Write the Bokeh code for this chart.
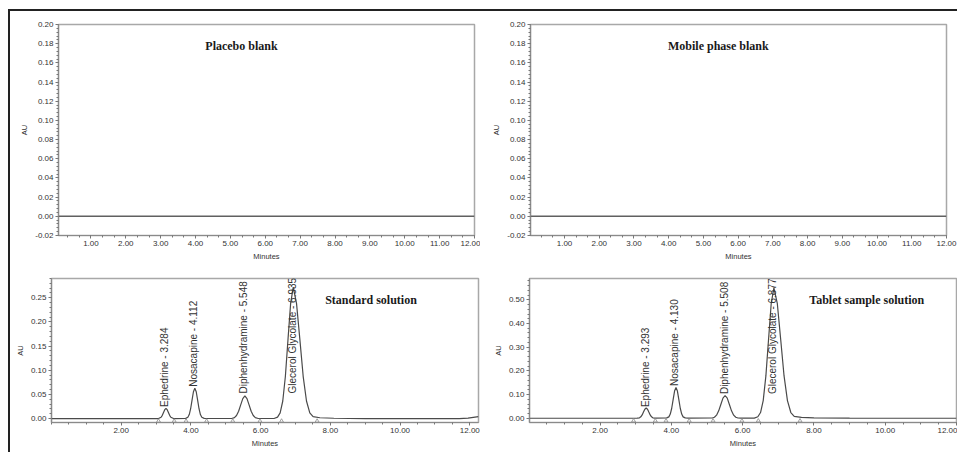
from bokeh.plotting import figure
from bokeh.models import Range1d, NumeralTickFormatter, FixedTicker, ColumnDataSource
from bokeh.layouts import column, row
from bokeh.embed import file_html
from bokeh.resources import INLINE
from bokeh.core.properties import value
import math

# ---------------- data ----------------
blank_t = [0.0, 12.0]
placebo_au = [0.0, 0.0]
mobile_au = [0.0, 0.0]

top_x_ticks = [1, 2, 3, 4, 5, 6, 7, 8, 9, 10, 11, 12]
bottom_x_ticks = [2, 4, 6, 8, 10, 12]
top_y_ticks = [-0.02, 0.0, 0.02, 0.04, 0.06, 0.08, 0.10, 0.12, 0.14, 0.16, 0.18, 0.20]
std_y_ticks = [0.0, 0.05, 0.10, 0.15, 0.20, 0.25]
tab_y_ticks = [0.0, 0.10, 0.20, 0.30, 0.40, 0.50]

peak_names = ["Ephedrine", "Nosacapine", "Diphenhydramine", "Glecerol Glycolate"]

std_rt = [3.284, 4.112, 5.548, 6.935]
std_label_y = [0.024, 0.066, 0.052, 0.052]
std_marks = [3.07, 3.52, 3.86, 4.45, 5.20, 5.98, 6.60, 7.62]
std_t = [0.0, 2.90, 3.07, 3.144, 3.179, 3.214, 3.249, 3.284, 3.319, 3.354, 3.389, 3.424, 3.50,
         3.85, 3.912, 3.952, 3.992, 4.032, 4.072, 4.112, 4.152, 4.192, 4.232, 4.272, 4.312, 4.38,
         5.17, 5.248, 5.308, 5.368, 5.428, 5.488, 5.548, 5.608, 5.668, 5.728, 5.788, 5.848, 5.93,
         6.385, 6.485, 6.56, 6.635, 6.71, 6.785, 6.86, 6.935, 7.03, 7.125, 7.22, 7.315, 7.41, 7.505,
         7.70, 8.10, 9.00, 11.70, 11.95, 12.25]
std_au = [0.0, 0.0, 0.0002, 0.0028, 0.0068, 0.0127, 0.0185, 0.021, 0.0185, 0.0127, 0.0068, 0.0028, 0.0002,
          0.0005, 0.0028, 0.0085, 0.0205, 0.0382, 0.0556, 0.063, 0.0556, 0.0382, 0.0205, 0.0085, 0.0028, 0.0005,
          0.0003, 0.002, 0.0064, 0.0153, 0.0285, 0.0415, 0.047, 0.0415, 0.0285, 0.0153, 0.0064, 0.002, 0.0003,
          0.0003, 0.003, 0.0118, 0.0365, 0.0876, 0.164, 0.238, 0.272, 0.238, 0.164, 0.0876, 0.0365, 0.0118, 0.004,
          0.0018, 0.0008, 0.0002, 0.0, 0.001, 0.004]

tab_rt = [3.293, 4.130, 5.508, 6.877]
tab_label_y = [0.047, 0.136, 0.102, 0.102]
tab_marks = [2.94, 3.55, 3.85, 4.50, 5.17, 5.98, 6.44, 7.61]
tab_t = [0.0, 2.90, 3.043, 3.106, 3.143, 3.181, 3.218, 3.256, 3.293, 3.331, 3.368, 3.406, 3.443, 3.481, 3.543,
         3.87, 3.93, 3.97, 4.01, 4.05, 4.09, 4.13, 4.17, 4.21, 4.25, 4.29, 4.33, 4.39, 4.47,
         5.148, 5.208, 5.268, 5.328, 5.388, 5.448, 5.508, 5.568, 5.628, 5.688, 5.748, 5.808, 5.868, 5.95,
         6.327, 6.427, 6.502, 6.577, 6.652, 6.727, 6.802, 6.877, 6.972, 7.067, 7.162, 7.257, 7.352, 7.447,
         7.65, 8.00, 9.00, 12.0]
tab_au = [0.0, 0.0, 0.0002, 0.0019, 0.0058, 0.014, 0.0261, 0.038, 0.043, 0.038, 0.0261, 0.014, 0.0058, 0.0019, 0.0002,
          0.0014, 0.0057, 0.0176, 0.0422, 0.0788, 0.1147, 0.13, 0.1147, 0.0788, 0.0422, 0.0176, 0.0057, 0.0014, 0.0002,
          0.0011, 0.0042, 0.013, 0.0312, 0.0582, 0.0847, 0.096, 0.0847, 0.0582, 0.0312, 0.013, 0.0042, 0.0011, 0.0002,
          0.0007, 0.0061, 0.0241, 0.0744, 0.1786, 0.3336, 0.4854, 0.55, 0.4854, 0.3336, 0.1786, 0.0744, 0.0241, 0.008,
          0.0035, 0.0015, 0.0004, 0.0]

SANS = "Liberation Sans"
SERIF = "Liberation Serif"
TRACE = "#4a4a4a"


def minor(ticks, n, lo, hi):
    step = (ticks[1] - ticks[0]) / n
    out = []
    k = 0
    v = ticks[0] - 20 * step
    while v <= hi + 1e-9:
        if v >= lo - 1e-9:
            out.append(round(v, 6))
        k += 1
        v = ticks[0] - 20 * step + k * step
    return out


def make_fig(w, h, xr, yr, mb, xt, xn, yt, yn):
    p = figure(width=w, height=h, x_range=Range1d(*xr), y_range=Range1d(*yr),
               output_backend="svg", toolbar_location=None, tools="",
               min_border_left=mb[0], min_border_right=mb[1],
               min_border_top=mb[2], min_border_bottom=mb[3])
    p.grid.visible = False
    p.outline_line_color = "#a8a8a8"
    p.outline_line_width = 1.5
    p.background_fill_color = "white"
    p.border_fill_color = "white"
    p.xaxis.ticker = FixedTicker(ticks=xt, minor_ticks=minor(xt, xn, xr[0], xr[1]))
    p.yaxis.ticker = FixedTicker(ticks=yt, minor_ticks=minor(yt, yn, yr[0], yr[1]))
    p.xaxis.formatter = NumeralTickFormatter(format="0.00")
    p.yaxis.formatter = NumeralTickFormatter(format="0.00")
    for ax in (p.xaxis[0], p.yaxis[0]):
        ax.axis_line_color = "#8a8a8a"
        ax.axis_line_width = 1.2
        ax.major_tick_line_color = "#777777"
        ax.minor_tick_line_color = "#777777"
        ax.major_tick_in = 0
        ax.major_tick_out = 3
        ax.minor_tick_in = 0
        ax.minor_tick_out = 2
        ax.major_label_text_font = SANS
        ax.major_label_text_font_size = "8px"
        ax.major_label_text_color = "#333333"
        ax.major_label_standoff = 2
        ax.axis_label_text_font = SANS
        ax.axis_label_text_font_size = "7.5px"
        ax.axis_label_text_font_style = "normal"
        ax.axis_label_text_color = "#333333"
        ax.axis_label_standoff = 3
    p.xaxis.axis_label = "Minutes"
    p.yaxis.axis_label = "AU"
    return p


def add_title(p, x, y, txt):
    p.text(x=[x], y=[y], text=[txt], text_font=value(SERIF), text_font_size="12px",
           text_font_style="bold", text_color="#1a1a1a", text_align="left", text_baseline="middle")


def add_peaks(p, t, au, rts, label_y, marks, mark_y):
    p.line(t, au, line_color=TRACE, line_width=1.2)
    p.scatter(marks, [mark_y] * len(marks), marker="triangle", size=4,
              line_color="#8a8a8a", fill_color=None, line_width=0.8)
    labels = [f"{n} - {r:.3f}" for n, r in zip(peak_names, rts)]
    src = ColumnDataSource(dict(x=rts, y=label_y, t=labels))
    p.text(x="x", y="y", text="t", source=src, angle=math.pi / 2, x_offset=-1,
           text_font=value(SANS), text_font_size="10px", text_color="#333333",
           text_align="left", text_baseline="middle")


# top-left: placebo blank
p1 = make_fig(470, 252, (0.07, 12.0), (-0.02, 0.20), (48, 6, 12, 28), top_x_ticks, 3, top_y_ticks, 5)
p1.line(blank_t, placebo_au, line_color="#606060", line_width=1.5)
add_title(p1, 4.28, 0.178, "Placebo blank")

# top-right: mobile phase blank
p2 = make_fig(477, 252, (0.02, 12.0), (-0.02, 0.20), (50, 11, 13, 27), top_x_ticks, 3, top_y_ticks, 5)
p2.line(blank_t, mobile_au, line_color="#606060", line_width=1.5)
add_title(p2, 3.98, 0.178, "Mobile phase blank")

# bottom-left: standard solution
p3 = make_fig(470, 189, (0.0, 12.25), (-0.008, 0.29), (41, 2, 9, 30), bottom_x_ticks, 4, std_y_ticks, 5)
add_peaks(p3, std_t, std_au, std_rt, std_label_y, std_marks, -0.005)
add_title(p3, 7.85, 0.245, "Standard solution")

# bottom-right: tablet sample solution
p4 = make_fig(477, 189, (0.02, 12.0), (-0.018, 0.59), (49, 1, 15, 25), bottom_x_ticks, 4, tab_y_ticks, 5)
add_peaks(p4, tab_t, tab_au, tab_rt, tab_label_y, tab_marks, -0.011)
add_title(p4, 7.87, 0.50, "Tablet sample solution")

layout = column(row(p1, p2), row(p3, p4),
                styles={"border-top": "2px solid #222", "border-left": "2px solid #222",
                        "margin-top": "9px", "margin-left": "8px"})

open("out.html", "w").write(file_html(layout, INLINE))
